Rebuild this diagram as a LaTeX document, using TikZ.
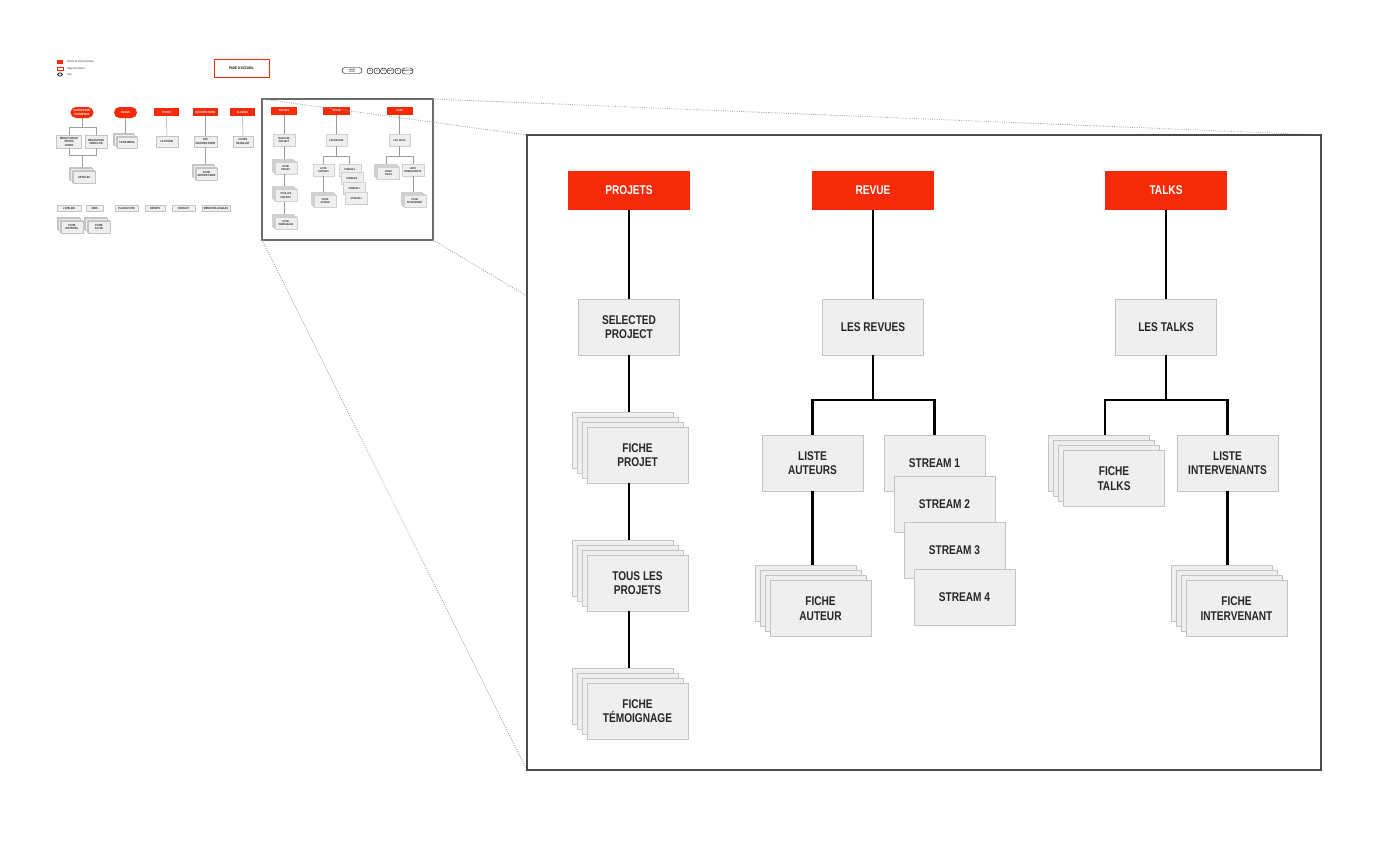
\documentclass[tikz,border=0pt]{standalone}
\usepackage{fontspec}
\setmainfont{Liberation Sans}[FakeStretch=0.8]
\usetikzlibrary{calc,shapes.misc}
\definecolor{myred}{HTML}{F52A08}
\definecolor{boxfill}{HTML}{EFEFEF}
\definecolor{boxline}{HTML}{C4C4C4}
\definecolor{framegray}{HTML}{4A4A4A}
\newcommand\boxfont{\fontsize{9}{10.4}\selectfont\bfseries}
\newcommand\mytinyfont{\fontsize{2.1}{2.5}\selectfont\bfseries}
\newcommand\legfont{\fontsize{2.1}{2.5}\selectfont}
% #1 style, #2 name, #3 x, #4 y, #5 step, #6 text
\newcommand\mkstack[6]{%
  \node[#1] (#2-c) at (#3-3*#5,#4-3*#5) {};
  \node[#1] (#2-b) at (#3-2*#5,#4-2*#5) {};
  \node[#1] (#2-a) at (#3-#5,#4-#5) {};
  \node[#1] (#2) at (#3,#4) {#6};}
\tikzset{
  redbox/.style={fill=myred, text=white, font=\boxfont, inner sep=0pt,
    minimum width=3.025cm, minimum height=0.975cm, align=center},
  pagebox/.style={fill=boxfill, draw=boxline, line width=0.6pt, text=black!85,
    font=\boxfont, inner sep=0pt, minimum width=2.525cm, minimum height=1.4cm, align=center},
  conn/.style={draw=black, line width=1.8pt},
  zoomline/.style={draw=gray!75, densely dotted, line width=0.6pt},
  tred/.style={fill=myred, text=white, font=\mytinyfont, inner sep=0pt,
    minimum width=0.625cm, minimum height=0.2cm, align=center},
  tpill/.style={tred, rounded rectangle, minimum width=0.575cm, minimum height=0.275cm},
  tbox/.style={fill=boxfill, draw=boxline, line width=0.2pt, text=black!85,
    font=\mytinyfont, inner sep=0pt, align=center, minimum height=0.28cm},
  tline/.style={draw=gray!75, line width=0.35pt},
  legtext/.style={font=\legfont, anchor=west, inner sep=0pt, text=black!80},
  linkpill/.style={draw=black, line width=0.3pt, rounded rectangle, inner sep=0pt,
    font=\fontsize{1.3}{1.5}\selectfont\bfseries, minimum height=0.15cm, align=center},
  sitemap/.pic={
    \node[redbox] (projets) at (102,55) {PROJETS};
    \node[redbox] (revue) at (346,55) {REVUE};
    \node[redbox] (talks) at (639,55) {TALKS};
    \node[pagebox] (selected) at (102,192) {SELECTED\\PROJECT};
    \node[pagebox] (revues) at (346,192) {LES REVUES};
    \node[pagebox] (lestalks) at (639,192) {LES TALKS};
    \mkstack{pagebox}{ficheprojet}{110.5}{320}{5}{FICHE\\PROJET}
    \mkstack{pagebox}{tous}{110.5}{448}{5}{TOUS LES\\PROJETS}
    \mkstack{pagebox}{temoignage}{110.5}{576}{5}{FICHE\\TÉMOIGNAGE}
    \node[pagebox] (auteurs) at (285.5,328) {LISTE\\AUTEURS};
    \node[pagebox] (stream1) at (407.5,328) {STREAM 1};
    \node[pagebox] (stream2) at (417.5,369) {STREAM 2};
    \node[pagebox] (stream3) at (427.5,415) {STREAM 3};
    \node[pagebox] (stream4) at (437.5,462) {STREAM 4};
    \mkstack{pagebox}{ficheauteur}{293.5}{473.5}{5}{FICHE\\AUTEUR}
    \mkstack{pagebox}{fichetalks}{587}{343.5}{5}{FICHE\\TALKS}
    \node[pagebox] (intervenants) at (700.5,328) {LISTE\\INTERVENANTS};
    \mkstack{pagebox}{ficheintervenant}{709.5}{473.5}{5}{FICHE\\INTERVENANT}
    % connectors
    \draw[conn] (projets.south) -- (selected.north);
    \draw[conn] (selected.south) -- (selected.south |- ficheprojet-c.north);
    \draw[conn] (selected.south |- ficheprojet.south) -- (selected.south |- tous-c.north);
    \draw[conn] (selected.south |- tous.south) -- (selected.south |- temoignage-c.north);
    \coordinate (rj) at (346,265);
    \draw[conn] (revue.south) -- (revues.north);
    \draw[conn] (revues.south) -- (rj);
    \draw[conn] (auteurs.north) -- (auteurs.north |- rj) -- (stream1.north |- rj) -- (stream1.north);
    \draw[conn] (auteurs.south) -- (auteurs.south |- ficheauteur-c.north);
    \coordinate (tj) at (639,265);
    \coordinate (tl) at (578,265);
    \draw[conn] (talks.south) -- (lestalks.north);
    \draw[conn] (lestalks.south) -- (tj);
    \draw[conn] (tl |- fichetalks-c.north) -- (tl) -- (intervenants.north |- tj) -- (intervenants.north);
    \draw[conn] (intervenants.south) -- (intervenants.south |- ficheintervenant-c.north);
  }
}
\begin{document}
\begin{tikzpicture}[x=0.025cm,y=-0.025cm]
\useasboundingbox (0,0) rectangle (1400,851);
\fill[white] (0,0) rectangle (1400,851);

% ---------- legend ----------
\node[fill=myred, minimum width=0.15cm, minimum height=0.1cm, inner sep=0pt] (lg1) at (60,61.5) {};
\node[legtext] (lg1t) at (67,61.5) {Entrée du menu principal};
\node[draw=myred, line width=0.3pt, minimum width=0.15cm, minimum height=0.075cm, inner sep=0pt] (lg2) at (60,68.5) {};
\node[legtext] (lg2t) at (67,68.5) {Page de contenu};
\node[draw=black, line width=0.45pt, rounded rectangle, minimum width=0.12cm, minimum height=0.075cm, inner sep=0pt] (lg3) at (60,74.5) {};
\node[legtext] (lg3t) at (67,74.5) {Lien};

\node[draw=myred, line width=0.6pt, minimum width=1.375cm, minimum height=0.45cm, inner sep=0pt,
  font=\fontsize{2.6}{3}\selectfont\bfseries] (home) at (241.5,68) {PAGE D'ACCUEIL};

% link pills
\node[linkpill, minimum width=0.5cm] (lang) at (352,70.5) {LANGUE\\FR / EN};
\node[linkpill, minimum width=0.15cm] (l1) at (370,71) {FB};
\node[linkpill, minimum width=0.15cm] (l2) at (377,71) {IG};
\node[linkpill, minimum width=0.125cm] (l3) at (383.5,71) {TW};
\node[linkpill, minimum width=0.175cm] (l4) at (390.5,71) {VIMEO};
\node[linkpill, minimum width=0.15cm] (l5) at (398,71) {IN};
\node[linkpill, minimum width=0.275cm] (l6) at (407.5,71) {NEWSLETTER};

% ---------- left part of overview ----------
\node[tpill] (m1) at (82,112.5) {SAVOIR-FAIRE\\ENTREPRISE};
\node[tpill] (m2) at (125.5,112.5) {BLOGS};
\node[tred] (m3) at (166.5,112) {STUDIO};
\node[tred] (m4) at (205.5,112) {GROUPES PARIS};
\node[tred] (m5) at (242.5,112) {CLASSES};

\node[tbox, minimum width=0.625cm, minimum height=0.325cm] (c1a) at (69,141.5) {RÉDACTION DE\\TEXTES\\LONGS};
\node[tbox, minimum width=0.55cm, minimum height=0.325cm] (c1b) at (96,141.5) {RÉALISATION\\VIDÉO LIVE};
\mkstack{tbox, minimum width=0.55cm, minimum height=0.3cm}{art}{84}{177}{1.2}{ARTICLES}
\mkstack{tbox, minimum width=0.5cm, minimum height=0.275cm}{media}{127}{142.5}{1.2}{FICHE MEDIA}
\node[tbox, minimum width=0.55cm, minimum height=0.275cm] (c3) at (167,141.5) {LE STUDIO};
\node[tbox, minimum width=0.575cm, minimum height=0.275cm] (c4) at (205.5,141.5) {LES\\GROUPES PARIS};
\mkstack{tbox, minimum width=0.525cm, minimum height=0.3cm}{groupe}{206.5}{174}{1.2}{FICHE\\GROUPE PARIS};
\node[tbox, minimum width=0.5cm, minimum height=0.275cm] (c5) at (243,141.5) {COURS\\DE BALLET};

\coordinate (j1) at (82,127);
\coordinate (j2) at (82,155);
\draw[tline] (m1.south) -- (j1);
\draw[tline] (c1a.north) -- (c1a.north |- j1) -- (c1b.north |- j1) -- (c1b.north);
\draw[tline] (c1a.south) -- (c1a.south |- j2) -- (c1b.south |- j2) -- (c1b.south);
\draw[tline] (j2) -- (j2 |- art-c.north);
\draw[tline] (m2.south) -- (m2.south |- media-c.north);
\draw[tline] (m3.south) -- (c3.north);
\draw[tline] (m4.south) -- (c4.north);
\draw[tline] (c4.south) -- (c4.south |- groupe-c.north);
\draw[tline] (m5.south) -- (c5.north);

% footer pages
\node[tbox, minimum width=0.6cm, minimum height=0.15cm] (f1) at (69,208) {L'ATELIER};
\node[tbox, minimum width=0.425cm, minimum height=0.15cm] (f2) at (94.5,208) {JOBS};
\node[tbox, minimum width=0.575cm, minimum height=0.15cm] (f3) at (126.5,208) {PLAN DU SITE};
\node[tbox, minimum width=0.5cm, minimum height=0.15cm] (f4) at (155,208) {CRÉDITS};
\node[tbox, minimum width=0.575cm, minimum height=0.15cm] (f5) at (183.5,208) {CONTACT};
\node[tbox, minimum width=0.7cm, minimum height=0.15cm] (f6) at (216,208) {MENTIONS LÉGALES};
\mkstack{tbox, minimum width=0.55cm, minimum height=0.3cm}{fp1}{72}{227}{1.2}{FICHE\\EN PROFIL}
\mkstack{tbox, minimum width=0.55cm, minimum height=0.3cm}{fp2}{99}{227}{1.2}{FICHE\\ACTUS}

% ---------- zoom frames ----------
\coordinate (snw) at (262,99);
\coordinate (sne) at (433,99);
\coordinate (sse) at (433,240);
\coordinate (ssw) at (262,240);
\coordinate (bnw) at (527,135);
\coordinate (bne) at (1321,135);
\coordinate (bse) at (1321,770);
\coordinate (bsw) at (527,770);

\begin{scope}[shift={(262,99)}, scale=0.2154, transform shape,
    conn/.style={draw=gray!80, line width=0.45pt},
    pagebox/.append style={line width=0.12pt, draw=boxline!80}]
  \pic (mini) at (0,0) {sitemap};
\end{scope}
\draw[draw=gray!85!black, line width=1pt] (snw) rectangle (sse);

\draw[zoomline] (snw) -- (bnw);
\draw[zoomline] (sne) -- (bne);
\draw[zoomline] (sse) -- (bse);
\draw[zoomline] (ssw) -- (bsw);

\draw[draw=framegray, line width=1.4pt, fill=white] (bnw) rectangle (bse);
\pic (big) at (bnw) {sitemap};
\end{tikzpicture}
\end{document}
